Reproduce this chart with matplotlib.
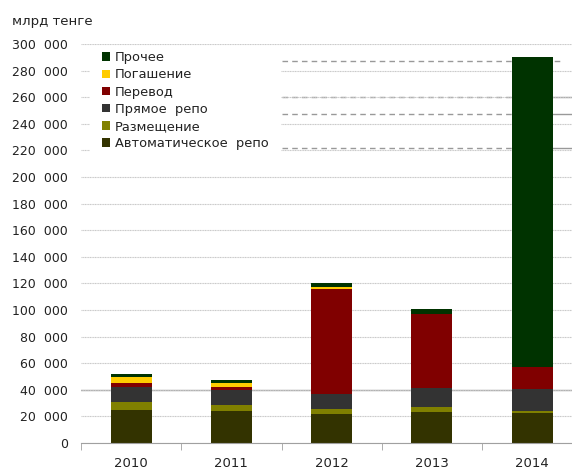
import matplotlib
matplotlib.use("Agg")
import matplotlib.pyplot as plt
from matplotlib.patches import Rectangle, Patch
import numpy as np

plt.rcParams['font.family'] = ['DejaVu Sans']

years = ['2010', '2011', '2012', '2013', '2014']
series = ['Автоматическое  репо', 'Размещение', 'Прямое  репо', 'Перевод', 'Погашение', 'Прочее']
colors = ['#333300', '#808000', '#333333', '#800000', '#ffcc00', '#003300']

auto_repo = [25000, 24000, 22000, 23300, 22300]
placement = [5800, 4800, 3800, 4000, 1700]
direct_repo = [11500, 10800, 11200, 14200, 16600]
transfer = [2500, 2700, 79000, 55500, 16500]
redemption = [4500, 3000, 1500, 0, 0]
other = [2800, 1800, 2700, 3700, 233300]
values = [auto_repo, placement, direct_repo, transfer, redemption, other]

yticks = list(range(0, 300001, 20000))
# leftover leader lines in the upper right part of the chart
leader_levels = [287000, 260000, 247300, 221800]

fig = plt.figure(figsize=(5.72, 4.69), dpi=100)
ax = fig.add_axes([81 / 572, 26 / 469, 491 / 572, 399 / 469])

x = np.arange(len(years))
bottom = np.zeros(len(years))
for vals, col, name in zip(values, colors, series):
    ax.bar(x, vals, width=0.41, bottom=bottom, color=col, label=name, zorder=3)
    bottom += np.array(vals)

ax.set_xlim(-0.5, -0.5 + 491 / 100.25)
ax.set_ylim(0, 300000)
ax.set_yticks(yticks)
ax.set_yticklabels(['0' if v == 0 else f"{v // 1000}  000" for v in yticks])
ax.set_xticks(x)
ax.set_xticklabels(years)
ax.set_xticks(np.arange(-0.5, 4, 1.0), minor=True)

ax.yaxis.grid(True, color='#c8c8c8', linestyle=(0, (1, 0.5)), linewidth=0.8, zorder=0)
ax.axhline(40000, color='#a0a0a0', linewidth=1.0, zorder=1)

for i, lvl in enumerate(leader_levels):
    ax.axhline(lvl, xmin=0.409, xmax=0.976 if i == 0 else 0.88, color='#999999',
               linewidth=1.0, linestyle=(0, (4, 3)), zorder=1)
    if i > 0:
        ax.axhline(lvl, xmin=0.95, xmax=1.0, color='#999999', linewidth=1.0, zorder=1)

for s in ['top', 'right', 'left']:
    ax.spines[s].set_visible(False)
ax.spines['bottom'].set_color('#a0a0a0')
ax.spines['bottom'].set_zorder(4)

ax.tick_params(axis='y', length=0, pad=9.5, labelsize=9, labelcolor='#222222')
ax.tick_params(axis='x', which='major', length=0, pad=10, labelsize=9.5, labelcolor='#222222')
ax.tick_params(axis='x', which='minor', length=5, color='#a0a0a0', direction='out')

# white box behind the legend hides the gridlines
ax.add_patch(Rectangle((0.018, 0.709), 0.389, 0.276, transform=ax.transAxes,
                       facecolor='white', edgecolor='none', zorder=2))

handles = [Patch(facecolor=c, edgecolor='none') for c in colors][::-1]
leg = ax.legend(handles, series[::-1], loc='upper left', bbox_to_anchor=(0.042, 0.982),
                frameon=False, fontsize=9.4, handlelength=0.62, handleheight=0.62,
                handletextpad=0.4, labelspacing=0.32, borderpad=0, borderaxespad=0)
leg.set_zorder(5)
for t in leg.get_texts():
    t.set_color('#222222')

fig.text(12 / 572, 1 - 21 / 469, 'млрд тенге', fontsize=9.5, color='#222222', va='center', ha='left')

fig.savefig('out.png', dpi=100)
